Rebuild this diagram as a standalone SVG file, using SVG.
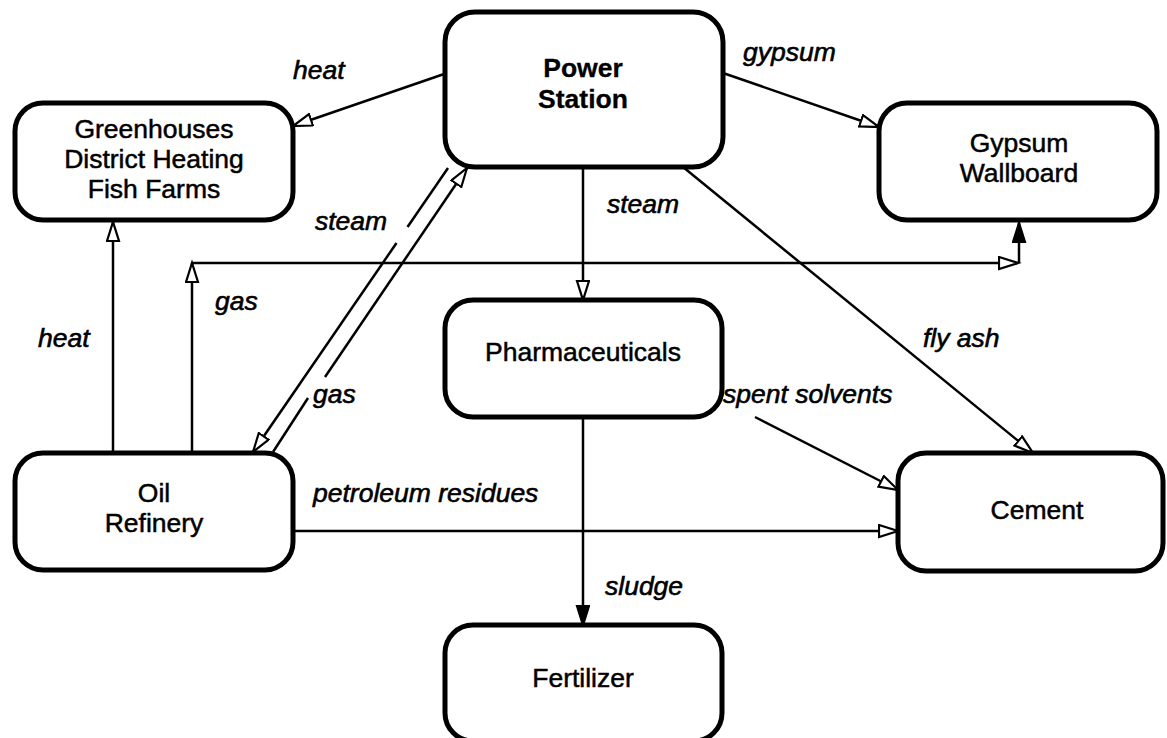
<svg xmlns="http://www.w3.org/2000/svg" width="1167" height="738" viewBox="0 0 1167 738">
  <style>
    .box { fill: #ffffff; stroke: #000000; stroke-width: 5; }
    .lbl { font-family: "Liberation Sans", Arial, sans-serif; font-size: 26.5px; fill: #000000; stroke: #000000; stroke-width: 0.5; text-anchor: middle; }
    .bold { font-weight: bold; stroke-width: 0.3; }
    .flow { font-family: "Liberation Sans", Arial, sans-serif; font-size: 26.5px; font-style: italic; fill: #000000; stroke: #000000; stroke-width: 0.6; }
    .edge { fill: none; stroke: #000000; stroke-width: 2.5; }
  </style>
  <defs>
    <marker id="open" markerUnits="userSpaceOnUse" markerWidth="24" markerHeight="16" refX="20" refY="7" orient="auto" viewBox="0 0 24 16">
      <path d="M1,1 L20,7 L1,13 Z" fill="#ffffff" stroke="#000000" stroke-width="2.2"/>
    </marker>
    <marker id="solid" markerUnits="userSpaceOnUse" markerWidth="24" markerHeight="16" refX="20" refY="7" orient="auto" viewBox="0 0 24 16">
      <path d="M1,1 L20,7 L1,13 Z" fill="#000000" stroke="#000000" stroke-width="2.2"/>
    </marker>
  </defs>

  <rect width="1167" height="738" fill="#ffffff"/>

  <!-- connectors -->
  <g id="connectors">
    <path class="edge" d="M447,73 L293,126" marker-end="url(#open)"/>
    <path class="edge" d="M723,73 L879,127" marker-end="url(#open)"/>
    <path class="edge" d="M583,167 L583,300" marker-end="url(#open)"/>
    <path class="edge" d="M683,167 L1033,453" marker-end="url(#open)"/>
    <path class="edge" d="M755,417 L898,490" marker-end="url(#open)"/>
    <path class="edge" d="M293,531 L898,531" marker-end="url(#open)"/>
    <path class="edge" d="M583,417 L583,625" marker-end="url(#solid)"/>
    <path class="edge" d="M113,453 L113,222" marker-end="url(#open)"/>
    <path class="edge" d="M192,453 L192,263" marker-end="url(#open)"/>
    <path class="edge" d="M192,263 L1018,263" marker-end="url(#open)"/>
    <path class="edge" d="M1019,263 L1019,223" marker-end="url(#solid)"/>
    <!-- steam: power station to refinery (broken near its label) -->
    <path class="edge" d="M448,168 L407.5,227"/>
    <path class="edge" d="M396.5,243 L253,452" marker-end="url(#open)"/>
    <!-- gas: refinery to power station (broken near its label) -->
    <path class="edge" d="M273,452 L308,398"/>
    <path class="edge" d="M325,377 L467,168" marker-end="url(#open)"/>
  </g>

  <!-- flow labels -->
  <g id="flow-labels">
    <text class="flow" x="293" y="79">heat</text>
    <text class="flow" x="743" y="61">gypsum</text>
    <text class="flow" x="607" y="213">steam</text>
    <text class="flow" x="315" y="230">steam</text>
    <text class="flow" x="215" y="310">gas</text>
    <text class="flow" x="38" y="347">heat</text>
    <text class="flow" x="923" y="347">fly ash</text>
    <text class="flow" x="313" y="403">gas</text>
    <text class="flow" x="723" y="403">spent solvents</text>
    <text class="flow" x="313" y="502">petroleum residues</text>
    <text class="flow" x="605" y="595">sludge</text>
  </g>

  <!-- nodes -->
  <g id="power-station">
    <rect class="box" x="445" y="12" width="278" height="155" rx="30"/>
    <text class="lbl bold" x="583" y="77">Power</text>
    <text class="lbl bold" x="583" y="108">Station</text>
  </g>
  <g id="greenhouses">
    <rect class="box" x="15" y="103" width="278" height="117" rx="28"/>
    <text class="lbl" x="154" y="138">Greenhouses</text>
    <text class="lbl" x="154" y="168">District Heating</text>
    <text class="lbl" x="154" y="198">Fish Farms</text>
  </g>
  <g id="gypsum-wallboard">
    <rect class="box" x="879" y="103" width="278" height="117" rx="28"/>
    <text class="lbl" x="1019" y="152">Gypsum</text>
    <text class="lbl" x="1019" y="182">Wallboard</text>
  </g>
  <g id="pharmaceuticals">
    <rect class="box" x="445" y="300" width="277" height="117" rx="28"/>
    <text class="lbl" x="583" y="361">Pharmaceuticals</text>
  </g>
  <g id="oil-refinery">
    <rect class="box" x="15" y="453" width="278" height="117" rx="28"/>
    <text class="lbl" x="154" y="502">Oil</text>
    <text class="lbl" x="154" y="532">Refinery</text>
  </g>
  <g id="cement">
    <rect class="box" x="898" y="453" width="265" height="118" rx="28"/>
    <text class="lbl" x="1037" y="519">Cement</text>
  </g>
  <g id="fertilizer">
    <rect class="box" x="445" y="625" width="277" height="116" rx="28"/>
    <text class="lbl" x="583" y="687">Fertilizer</text>
  </g>
</svg>
